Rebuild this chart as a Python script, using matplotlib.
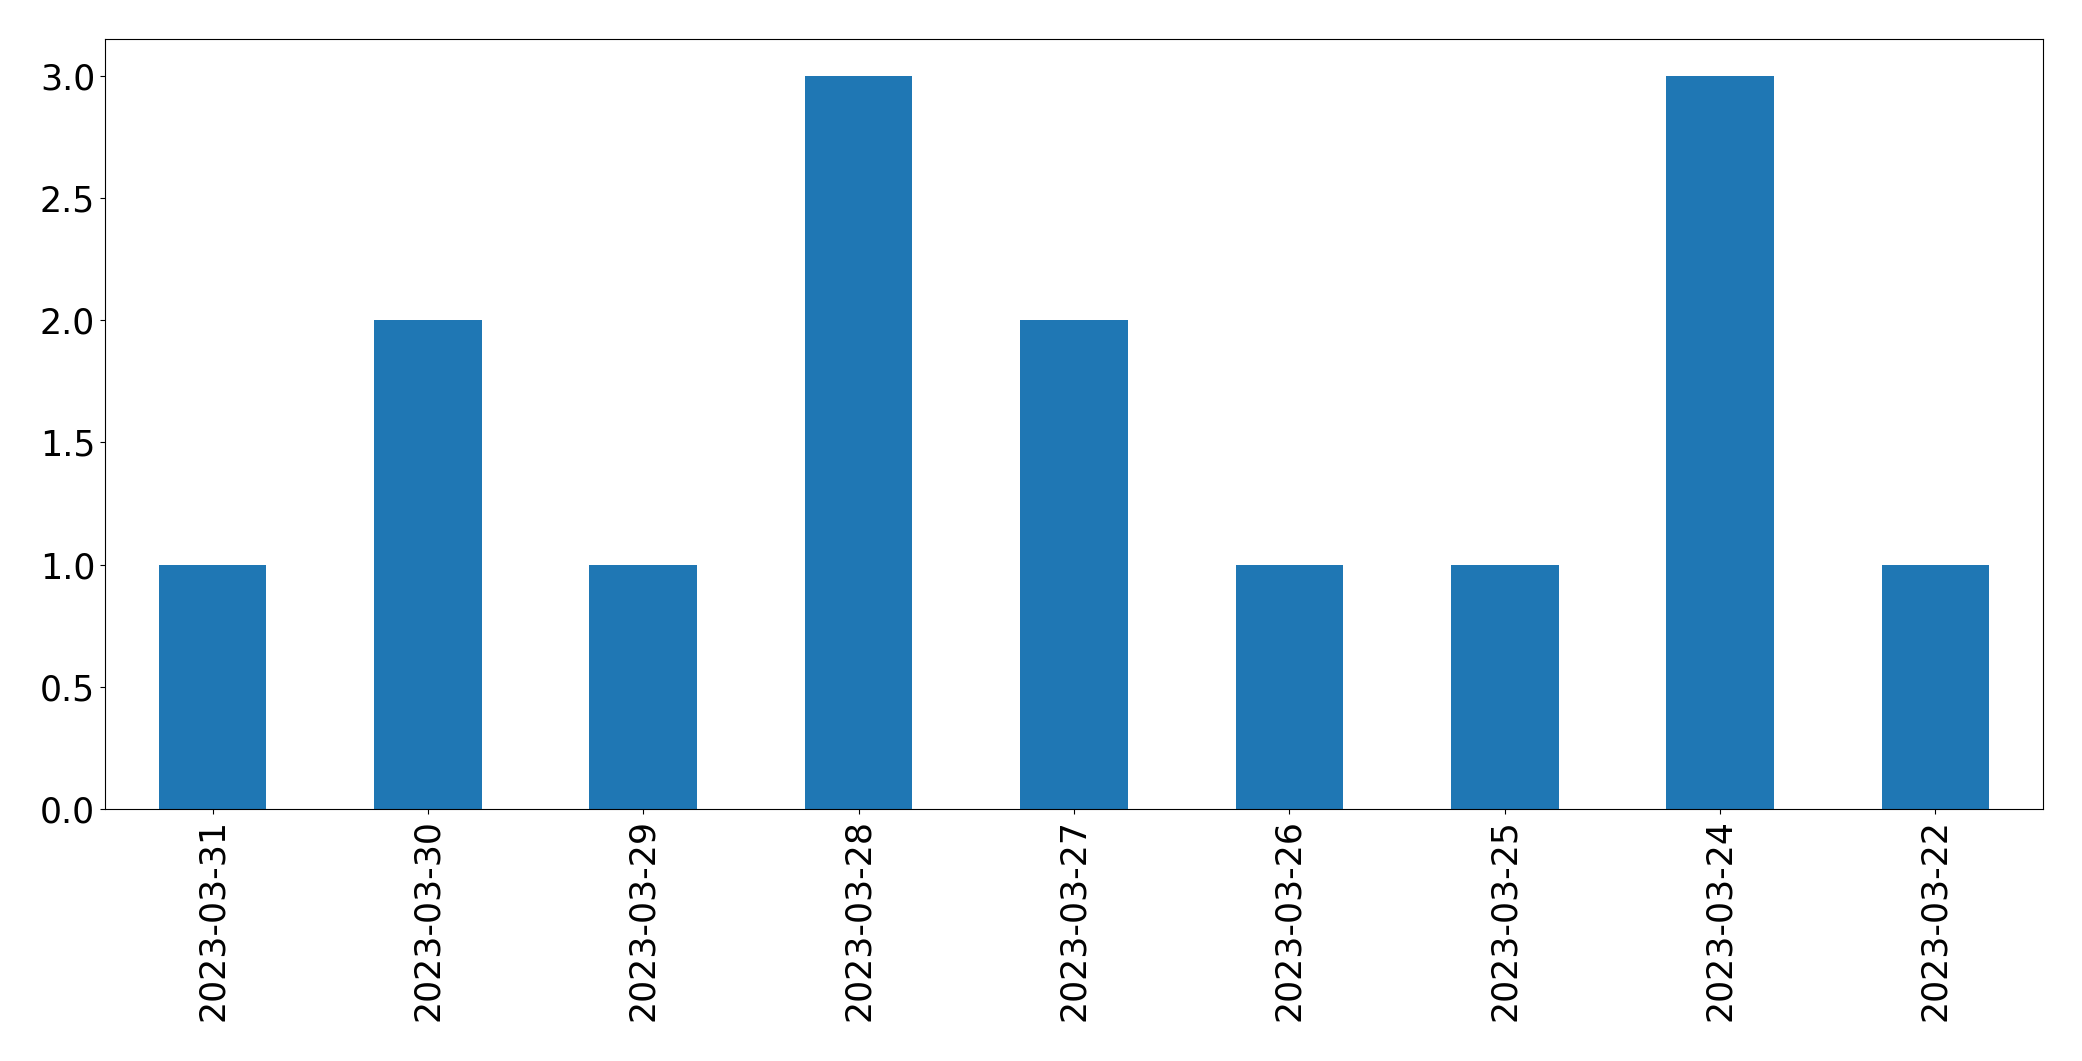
import matplotlib
matplotlib.use("Agg")
import matplotlib.pyplot as plt
import pandas as pd

dates = ["2023-03-31", "2023-03-30", "2023-03-29", "2023-03-28", "2023-03-27",
         "2023-03-26", "2023-03-25", "2023-03-24", "2023-03-22"]
counts = [1, 2, 1, 3, 2, 1, 1, 3, 1]

series = pd.Series(counts, index=dates)

fig = plt.figure(figsize=(20.82, 10.61), dpi=100)
ax = fig.add_subplot(111)
series.plot(kind="bar", ax=ax, color="#1f77b4", fontsize=25)
ax.tick_params(axis="x", labelrotation=90)

fig.subplots_adjust(left=0.0504, right=0.9813, top=0.963, bottom=0.2375)
fig.savefig("out.png", dpi=100)
